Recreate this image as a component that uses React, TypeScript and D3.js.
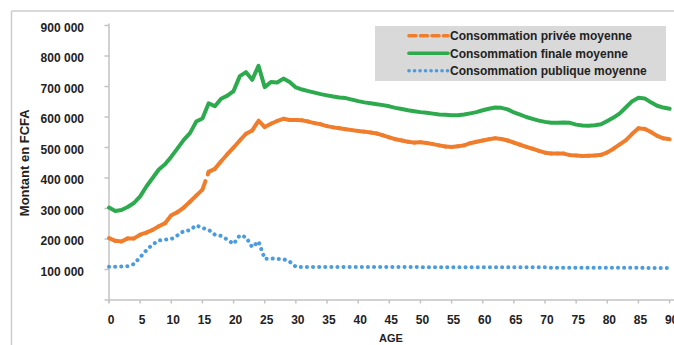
import React from 'react';
import * as d3 from 'd3';

// Ages (category axis)
const ages: number[] = d3.range(0, 91);

// Values in thousands of FCFA
const privee: number[] = [
  203, 194, 192, 202, 202, 214, 221, 230, 242, 252,
  278, 288, 303, 322, 342, 362, 420, 430, 455, 478,
  500, 523, 545, 556, 588, 567, 578, 587, 594, 590,
  590, 589, 585, 580, 576, 570, 566, 563, 560, 557,
  554, 552, 549, 546, 540, 533, 527, 523, 519, 516,
  517, 515, 511, 507, 503, 502, 504, 507, 514, 519,
  523, 527, 530, 528, 523, 516, 509, 502, 496, 489,
  483, 480, 480, 480, 475, 474, 472, 473, 474, 476,
  484, 496, 510, 524, 545, 563, 561, 551, 538, 530,
  527,
];
const finale: number[] = [
  303, 292, 295, 305, 318, 340, 372, 400, 428, 445,
  470, 497, 525, 547, 585, 595, 645, 635, 660, 670,
  685, 734, 747, 722, 768, 698, 715, 713, 726, 715,
  697, 690, 685, 680, 675, 671, 667, 664, 662, 657,
  652, 648, 645, 642, 639, 635, 630, 626, 622, 619,
  616, 614, 611, 608, 607, 606, 606, 608, 612, 616,
  622, 627, 631, 630, 625, 615, 608, 600, 594, 588,
  584, 581, 581, 582, 581, 575, 572, 571, 573, 576,
  587, 598, 612, 632, 652, 663, 661, 648, 637, 631,
  627,
];
const publique: number[] = [
  109, 109, 110, 111, 118, 140, 163, 182, 195, 198,
  200, 212, 226, 229, 245, 236, 230, 214, 210, 198,
  184, 212, 206, 173, 192, 135, 136, 135, 134, 126,
  109, 108, 108, 108, 108, 108, 108, 108, 108, 108,
  108, 108, 108, 108, 108, 108, 108, 108, 108, 108,
  108, 107, 107, 107, 107, 107, 107, 107, 107, 107,
  107, 107, 107, 107, 107, 107, 107, 107, 107, 107,
  107, 106, 106, 106, 106, 106, 106, 106, 106, 106,
  106, 106, 106, 106, 106, 106, 105, 105, 105, 105,
  105,
];

const yTicks: number[] = [0, 100, 200, 300, 400, 500, 600, 700, 800, 900];
const yTickLabels: string[] = ['', '100 000', '200 000', '300 000', '400 000', '500 000', '600 000', '700 000', '800 000', '900 000'];
const xTicks: number[] = [0, 5, 10, 15, 20, 25, 30, 35, 40, 45, 50, 55, 60, 65, 70, 75, 80, 85, 90];

const seriesNames: string[] = [
  'Consommation privée moyenne',
  'Consommation finale moyenne',
  'Consommation publique moyenne',
];
const colors = { privee: '#f07d2c', finale: '#2daa4e', publique: '#4b9be0' };

const FONT = "'Liberation Sans', Arial, Helvetica, sans-serif";
const TEXT = '#222222';
const AXIS = '#c3c3c3';

export default function App() {
  const W = 674;
  const H = 345;
  const x = d3.scaleLinear().domain([0, 90]).range([109, 669.6]);
  const y = d3.scaleLinear().domain([0, 900]).range([300, 25.5]);

  const line = d3
    .line<number>()
    .x((_, i) => x(ages[i]))
    .y((d) => y(d))
    .curve(d3.curveLinear);

  const pairs = d3.pairs(ages);
  const segLine = d3
    .line<number>()
    .x((a) => x(a))
    .y((a) => y(privee[a]));

  const legendX = 375;
  const legendY = 26;
  const legendRows = [35.7, 53.3, 70.7];

  return (
    <svg
      width={W}
      height={H}
      style={{ position: 'absolute', left: 0, top: 0, background: '#fff' }}
      fontFamily={FONT}
    >
      {/* frame */}
      <line x1={11.5} y1={11} x2={11.5} y2={H} stroke="#cccccc" strokeWidth={1.5} />
      <line x1={11.5} y1={11} x2={W} y2={11} stroke="#cccccc" strokeWidth={1.5} />

      {/* y axis */}
      <line x1={x(0)} y1={y(900) - 2} x2={x(0)} y2={y(0) + 3} stroke={AXIS} strokeWidth={1.5} />
      {yTicks.map((t, i) => (
        <g key={t}>
          <line x1={x(0) - 4.5} x2={x(0)} y1={y(t)} y2={y(t)} stroke={AXIS} strokeWidth={1.5} />
          {yTickLabels[i] && (
            <text
              x={84}
              y={y(t) + 2}
              dy="0.35em"
              textAnchor="end"
              fontSize={12}
              fontWeight="bold"
              fill={TEXT}
            >
              {yTickLabels[i]}
            </text>
          )}
        </g>
      ))}
      <text
        transform={`translate(29, ${(y(0) + y(900)) / 2}) rotate(-90)`}
        textAnchor="middle"
        fontSize={13}
        fontWeight="bold"
        fill={TEXT}
      >
        Montant en FCFA
      </text>

      {/* x axis */}
      <line x1={x(0)} y1={y(0)} x2={W} y2={y(0)} stroke={AXIS} strokeWidth={1.5} />
      {xTicks.map((t) => (
        <g key={t}>
          <line x1={x(t)} x2={x(t)} y1={y(0)} y2={y(0) + 3.5} stroke={AXIS} strokeWidth={1.5} />
          <text x={x(t) + 2} y={324} textAnchor="middle" fontSize={12} fontWeight="bold" fill={TEXT}>
            {t}
          </text>
        </g>
      ))}
      <text x={391} y={342} textAnchor="middle" fontSize={11} fontWeight="bold" fill={TEXT}>
        AGE
      </text>

      {/* series */}
      <path
        d={line(finale) || ''}
        fill="none"
        stroke={colors.finale}
        strokeWidth={4}
        strokeLinejoin="round"
        strokeLinecap="round"
      />
      {pairs.map(([a, b]) => (
        <path
          key={a}
          d={segLine([a, b]) || ''}
          fill="none"
          stroke={colors.privee}
          strokeWidth={4}
          strokeLinecap="round"
          strokeDasharray="9 7"
        />
      ))}
      <path
        d={line(publique) || ''}
        fill="none"
        stroke={colors.publique}
        strokeWidth={4}
        strokeLinecap="round"
        strokeDasharray="0.1 6"
      />

      {/* legend */}
      <rect x={legendX} y={legendY} width={291} height={55} fill="#d9d9d9" />
      {seriesNames.map((name, i) => {
        const cy = legendRows[i];
        const key = i === 0 ? 'privee' : i === 1 ? 'finale' : 'publique';
        const dash = i === 0 ? '7 4.5' : i === 2 ? '0.1 5.4' : undefined;
        return (
          <g key={name}>
            <line
              x1={409}
              x2={448}
              y1={cy}
              y2={cy}
              stroke={(colors as any)[key]}
              strokeWidth={i === 2 ? 3.6 : 3.6}
              strokeLinecap="round"
              strokeDasharray={dash}
            />
            <text x={450} y={cy} dy="0.36em" fontSize={12} fontWeight="bold" fill={TEXT}>
              {name}
            </text>
          </g>
        );
      })}
    </svg>
  );
}
